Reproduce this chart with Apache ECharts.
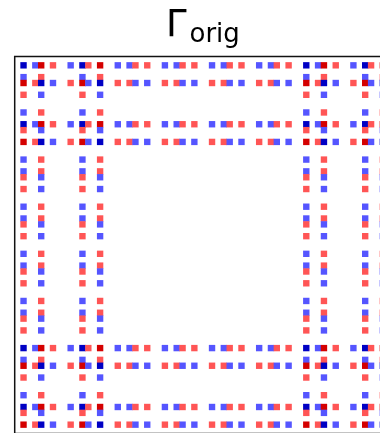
<!DOCTYPE html>
<html>
<head>
<meta charset="utf-8">
<script src="https://cdn.jsdelivr.net/npm/echarts@6/dist/echarts.min.js"></script>
<style>
  html, body { margin: 0; padding: 0; background: #ffffff; }
  #chart { width: 380px; height: 433px; }
</style>
</head>
<body>
<div id="chart"></div>
<script>
// Matrix entries, one 64-character string per row (8 characters per 8x8 block).
// '.' = 0, 'b' = -0.5, 'B' = -1, 'r' = 0.5, 'R' = 1
const empty8 = "........";
const Z  = empty8 + empty8 + empty8 + empty8 + empty8 + empty8 + empty8 + empty8;
const D1 = ".B.bR.r." + ".b.Br.R." + ".b.br.r." + ".b.br.r." + ".b.br.r." + ".b.br.r." + ".B.bR.r." + ".b.Br.R.";
const D4 = ".R.rB.b." + ".r.Rb.B." + ".r.rb.b." + ".r.rb.b." + ".r.rb.b." + ".r.rb.b." + ".R.rB.b." + ".r.Rb.B.";
const S1 = ".b..r..." + "...b..r." + empty8 + empty8 + empty8 + empty8 + ".b..r..." + "...b..r.";
const S4 = ".r..b..." + "...r..b." + empty8 + empty8 + empty8 + empty8 + ".r..b..." + "...r..b.";

const matrixRows = [
  Z, D1, Z, S1, D4, Z, S4, Z,
  Z, S1, Z, D1, S4, Z, D4, Z,
  Z, S1, Z, S1, S4, Z, S4, Z,
  Z, S1, Z, S1, S4, Z, S4, Z,
  Z, S1, Z, S1, S4, Z, S4, Z,
  Z, S1, Z, S1, S4, Z, S4, Z,
  Z, D1, Z, S1, D4, Z, S4, Z,
  Z, S1, Z, D1, S4, Z, D4, Z
];

const symbolValues = { 'B': -1, 'b': -0.5, 'r': 0.5, 'R': 1 };
const levelColors = ['#0000c4', '#5555ff', '#ff5555', '#d40000'];
const levelValues = [-1, -0.5, 0.5, 1];

const titleMain = 'Γ';
const titleSub = 'orig';

// Row/column index categories
const indexLabels = matrixRows.map((_, i) => String(i));

// Nonzero cells as [column, row, value]
const cells = [];
matrixRows.forEach((row, r) => {
  for (let c = 0; c < row.length; c++) {
    const ch = row[c];
    if (ch !== '.') cells.push([c, r, symbolValues[ch]]);
  }
});

const chart = echarts.init(document.getElementById('chart'), null, { renderer: 'canvas' });

const hiddenAxis = {
  type: 'category',
  data: indexLabels,
  axisLine: { show: false },
  axisTick: { show: false },
  axisLabel: { show: false },
  splitLine: { show: false },
  splitArea: { show: false }
};

chart.setOption({
  animation: false,
  backgroundColor: '#ffffff',
  grid: {
    left: 14.7, top: 56.5, width: 377, height: 377,
    show: true, borderColor: '#111111', borderWidth: 1.5,
    backgroundColor: 'transparent', containLabel: false,
    outerBoundsMode: 'none'
  },
  xAxis: Object.assign({}, hiddenAxis, { position: 'top' }),
  yAxis: Object.assign({}, hiddenAxis, { inverse: true }),
  visualMap: {
    type: 'piecewise',
    show: false,
    dimension: 2,
    pieces: levelValues.map((v, i) => ({ value: v, color: levelColors[i] }))
  },
  series: [{
    type: 'heatmap',
    data: cells,
    itemStyle: { borderWidth: 0 },
    emphasis: { disabled: true },
    progressive: 0
  }],
  graphic: [
    {
      type: 'text', x: 166, y: 26.5,
      style: {
        text: titleMain, fill: '#000000',
        font: '37px "DejaVu Sans"',
        textAlign: 'left', textVerticalAlign: 'middle'
      }
    },
    {
      type: 'text', x: 189.5, y: 34.8,
      style: {
        text: titleSub, fill: '#000000',
        font: '26px "DejaVu Sans"',
        textAlign: 'left', textVerticalAlign: 'middle'
      }
    }
  ]
});
</script>
</body>
</html>
